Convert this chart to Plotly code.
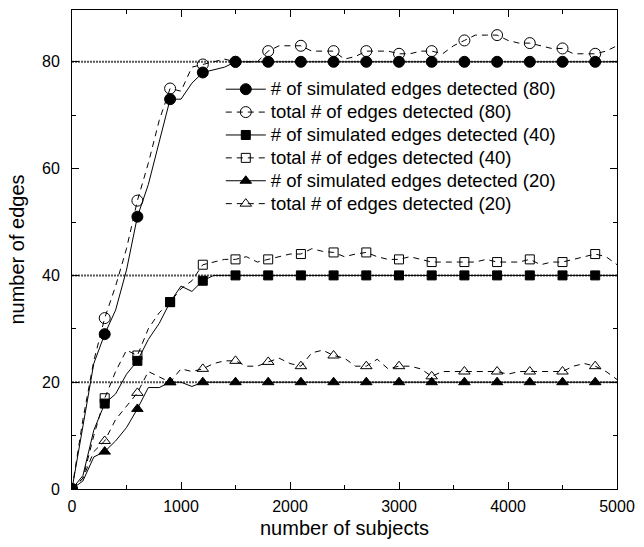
import plotly.graph_objects as go

# number of subjects (line sampled every 100, markers every 300)
subjects = list(range(0, 5001, 100))

sim80 = [0, 12, 23.5, 29, 33.5, 41, 51, 57, 65, 73, 73, 76, 78, 78.5, 79, 80,
         80, 80, 80, 80, 80, 80, 80, 80, 80, 80, 80, 80, 80, 80, 80,
         80, 80, 80, 80, 80, 80, 80, 80, 80, 80, 80, 80, 80, 80, 80,
         80, 80, 80, 80, 80]
total80 = [0, 13, 24, 32, 38, 45, 54, 61, 69, 75, 74.5, 79, 79.5, 80, 80.5, 80,
           80, 80, 82, 83, 83, 83, 82, 82, 82, 80.5, 81, 82, 82, 82, 81.5,
           81.5, 82, 82, 81.5, 83, 84, 85, 85, 85, 84, 83.5, 83.5, 83, 82.5, 82.5,
           81.5, 81.5, 81.5, 82, 83]
sim40 = [0, 2.5, 11, 16, 17.8, 21.5, 24, 28, 31, 35, 38, 37, 39, 40, 40, 40,
         40, 40, 40, 40, 40, 40, 40, 40, 40, 40, 40, 40, 40, 40, 40,
         40, 40, 40, 40, 40, 40, 40, 40, 40, 40, 40, 40, 40, 40, 40,
         40, 40, 40, 40, 40]
total40 = [0, 2, 10, 17, 22, 26, 25, 30, 33, 35, 37.5, 39, 42, 42.5, 43, 43,
           43.5, 42.5, 43, 43.5, 44, 44, 45, 44.5, 44.3, 43.5, 44, 44.3, 43.5, 43, 43,
           43.5, 43, 42.5, 42.5, 42.5, 42.5, 42.5, 43, 42.5, 42.5, 42.5, 43, 42, 42.5, 42.5,
           43, 43.5, 44, 43.5, 42]
sim20 = [0, 1.5, 6, 7, 9, 11.5, 15, 19, 19, 20, 20, 19.2, 20, 20, 20, 20,
         20, 20, 20, 20, 20, 20, 20, 20, 20, 20, 20, 20, 20, 20, 20,
         20, 20, 20, 20, 20, 20, 20, 20, 20, 20, 20, 20, 20, 20, 20,
         20, 20, 20, 20, 20]
total20 = [0, 2, 7, 9, 13, 15.5, 18, 22, 21, 20, 22.5, 22, 22.5, 23.5, 24, 24,
           23, 23, 23.8, 24.5, 23.5, 23, 25.5, 26, 25, 24.5, 23, 23, 24.3, 22.5, 23,
           23, 22.5, 21.1, 22, 22, 22, 22, 22, 22, 21.5, 22, 22, 22, 22, 22,
           23, 23.5, 23, 22, 20.5]

reference_levels = [20, 40, 80]

series = [
    ("# of simulated edges detected (80)", sim80, "circle", "solid", 11),
    ("total # of edges detected (80)", total80, "circle-open", "dash", 11),
    ("# of simulated edges detected (40)", sim40, "square", "solid", 9),
    ("total # of edges detected (40)", total40, "square-open", "dash", 9),
    ("# of simulated edges detected (20)", sim20, "triangle-up", "solid", 10),
    ("total # of edges detected (20)", total20, "triangle-up-open", "dash", 10),
]

marker_idx = [i for i, s in enumerate(subjects) if s % 300 == 0 and s <= 4800]

fig = go.Figure()
for lvl in reference_levels:
    fig.add_hline(y=lvl, line=dict(color="#555", width=2, dash="2px,1px"), layer="below")

for name, vals, sym, dash, size in series:
    fig.add_trace(go.Scatter(
        x=subjects, y=vals,
        name='<span style="font-size:18.5px">' + name + "</span>",
        mode="lines+markers",
        line=dict(color="black", width=1, dash=dash if dash == "solid" else "6px,5px"),
        marker=dict(symbol=sym, size=size, color="black",
                    line=dict(color="black", width=1)),
        selectedpoints=marker_idx,
        unselected=dict(marker=dict(opacity=0)),
        selected=dict(marker=dict(opacity=1)),
    ))

font_family = "Liberation Sans, Arial, Helvetica, sans-serif"
axis_common = dict(
    showline=True, linecolor="black", linewidth=1, mirror="ticks",
    ticks="inside", ticklen=7, tickwidth=1, tickcolor="black",
    showgrid=False, zeroline=False,
    tickfont=dict(family=font_family, size=16, color="black"),
)

fig.update_layout(
    width=644, height=547,
    margin=dict(l=72, r=22, t=9, b=58),
    paper_bgcolor="white", plot_bgcolor="white",
    font=dict(family=font_family, color="black"),
    showlegend=True,
    legend=dict(x=0.273, y=0.869, xanchor="left", yanchor="top",
                bgcolor="rgba(0,0,0,0)", borderwidth=0,
                font=dict(family=font_family, size=15.3, color="black"),
                itemwidth=40, tracegroupgap=0),
    xaxis=dict(range=[0, 5000], dtick=1000, tick0=0,
               minor=dict(dtick=500, ticks="inside", ticklen=4, tickcolor="black"),
               ticklabelstandoff=3,
               title=dict(text="number of subjects", standoff=6,
                          font=dict(family=font_family, size=20, color="black")),
               **axis_common),
    yaxis=dict(range=[0, 89.7], dtick=20, tick0=0,
               minor=dict(dtick=10, ticks="inside", ticklen=4, tickcolor="black"),
               ticklabelstandoff=8,
               title=dict(text="number of edges", standoff=12,
                          font=dict(family=font_family, size=20, color="black")),
               **axis_common),
)

fig.write_html("out.html")
